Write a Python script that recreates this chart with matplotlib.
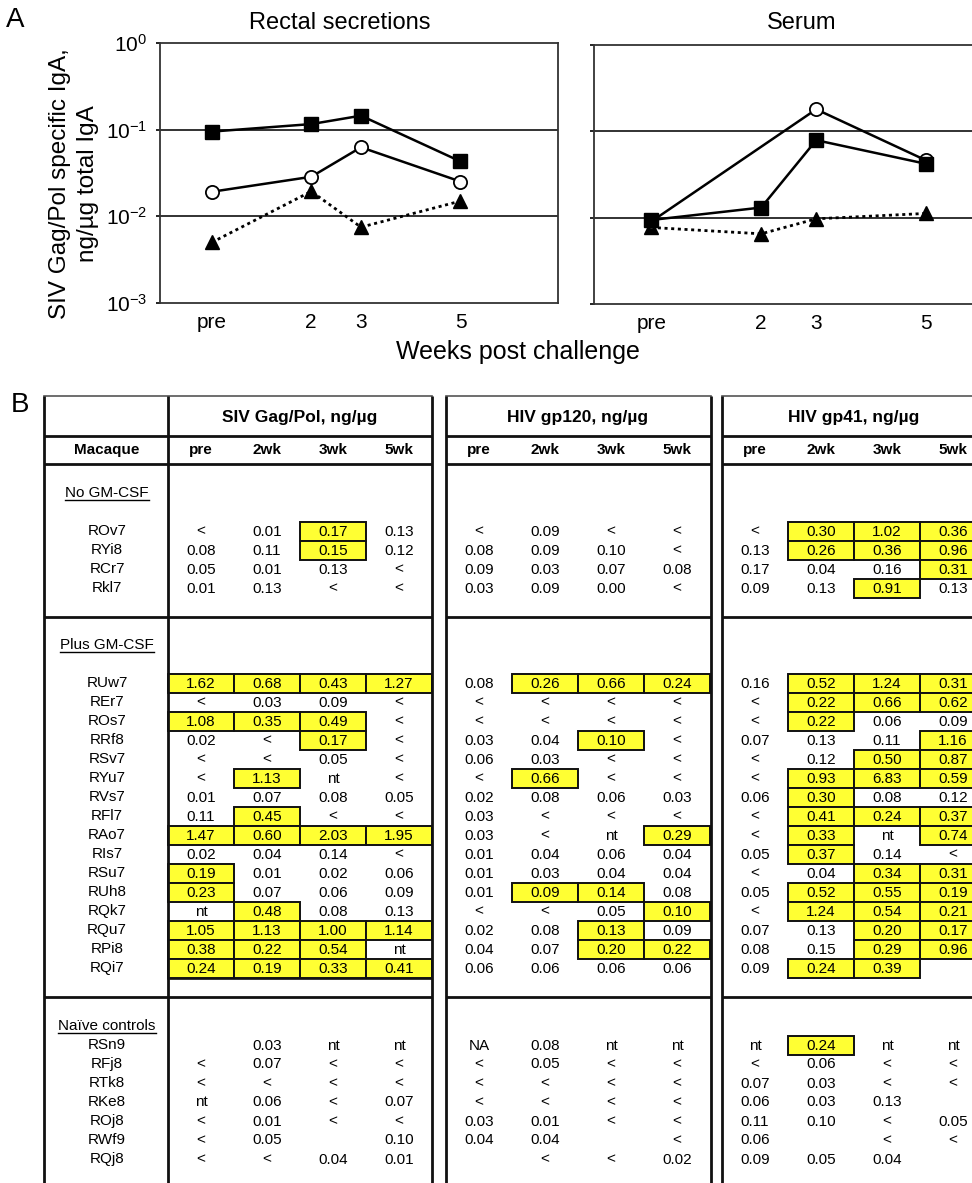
import numpy as np
import matplotlib
matplotlib.use('Agg')
import matplotlib.pyplot as plt
from matplotlib.patches import Rectangle
from matplotlib.ticker import NullLocator

plt.rcParams['font.family'] = ['Liberation Sans', 'DejaVu Sans']
plt.rcParams['mathtext.default'] = 'regular'

# ---- panel A data ----
weeks = [0, 2, 3, 5]
week_labels = ['pre', '2', '3', '5']

rectal_square = [0.095, 0.116, 0.145, 0.043]
rectal_circle = [0.0192, 0.0286, 0.0626, 0.0252]
rectal_triangle = [0.0050, 0.0194, 0.0075, 0.0150]

serum_square = [0.0094, 0.0131, 0.079, 0.042]
serum_circle = [0.0090, np.nan, 0.18, 0.046]
serum_triangle = [0.0077, 0.0065, 0.0097, 0.0112]

# ---- panel B data ('*' = highlighted response) ----
timepoints = ['pre', '2wk', '3wk', '5wk']
assays = ['SIV Gag/Pol, ng/µg', 'HIV gp120, ng/µg', 'HIV gp41, ng/µg']
groups = ['No GM-CSF', 'Plus GM-CSF', 'Naïve controls']

macaques_no = ['ROv7', 'RYi8', 'RCr7', 'Rkl7']
macaques_plus = ['RUw7', 'REr7', 'ROs7', 'RRf8', 'RSv7', 'RYu7', 'RVs7', 'RFl7',
                 'RAo7', 'RIs7', 'RSu7', 'RUh8', 'RQk7', 'RQu7', 'RPi8', 'RQi7']
macaques_naive = ['RSn9', 'RFj8', 'RTk8', 'RKe8', 'ROj8', 'RWf9', 'RQj8']

siv_gagpol = [
    ['<', '0.01', '0.17*', '0.13'],
    ['0.08', '0.11', '0.15*', '0.12'],
    ['0.05', '0.01', '0.13', '<'],
    ['0.01', '0.13', '<', '<'],
    ['1.62*', '0.68*', '0.43*', '1.27*'],
    ['<', '0.03', '0.09', '<'],
    ['1.08*', '0.35*', '0.49*', '<'],
    ['0.02', '<', '0.17*', '<'],
    ['<', '<', '0.05', '<'],
    ['<', '1.13*', 'nt', '<'],
    ['0.01', '0.07', '0.08', '0.05'],
    ['0.11', '0.45*', '<', '<'],
    ['1.47*', '0.60*', '2.03*', '1.95*'],
    ['0.02', '0.04', '0.14', '<'],
    ['0.19*', '0.01', '0.02', '0.06'],
    ['0.23*', '0.07', '0.06', '0.09'],
    ['nt', '0.48*', '0.08', '0.13'],
    ['1.05*', '1.13*', '1.00*', '1.14*'],
    ['0.38*', '0.22*', '0.54*', 'nt'],
    ['0.24*', '0.19*', '0.33*', '0.41*'],
    ['', '0.03', 'nt', 'nt'],
    ['<', '0.07', '<', '<'],
    ['<', '<', '<', '<'],
    ['nt', '0.06', '<', '0.07'],
    ['<', '0.01', '<', '<'],
    ['<', '0.05', '', '0.10'],
    ['<', '<', '0.04', '0.01'],
]

hiv_gp120 = [
    ['<', '0.09', '<', '<'],
    ['0.08', '0.09', '0.10', '<'],
    ['0.09', '0.03', '0.07', '0.08'],
    ['0.03', '0.09', '0.00', '<'],
    ['0.08', '0.26*', '0.66*', '0.24*'],
    ['<', '<', '<', '<'],
    ['<', '<', '<', '<'],
    ['0.03', '0.04', '0.10*', '<'],
    ['0.06', '0.03', '<', '<'],
    ['<', '0.66*', '<', '<'],
    ['0.02', '0.08', '0.06', '0.03'],
    ['0.03', '<', '<', '<'],
    ['0.03', '<', 'nt', '0.29*'],
    ['0.01', '0.04', '0.06', '0.04'],
    ['0.01', '0.03', '0.04', '0.04'],
    ['0.01', '0.09*', '0.14*', '0.08'],
    ['<', '<', '0.05', '0.10*'],
    ['0.02', '0.08', '0.13*', '0.09'],
    ['0.04', '0.07', '0.20*', '0.22*'],
    ['0.06', '0.06', '0.06', '0.06'],
    ['NA', '0.08', 'nt', 'nt'],
    ['<', '0.05', '<', '<'],
    ['<', '<', '<', '<'],
    ['<', '<', '<', '<'],
    ['0.03', '0.01', '<', '<'],
    ['0.04', '0.04', '', '<'],
    ['', '<', '<', '0.02'],
]

hiv_gp41 = [
    ['<', '0.30*', '1.02*', '0.36*'],
    ['0.13', '0.26*', '0.36*', '0.96*'],
    ['0.17', '0.04', '0.16', '0.31*'],
    ['0.09', '0.13', '0.91*', '0.13'],
    ['0.16', '0.52*', '1.24*', '0.31*'],
    ['<', '0.22*', '0.66*', '0.62*'],
    ['<', '0.22*', '0.06', '0.09'],
    ['0.07', '0.13', '0.11', '1.16*'],
    ['<', '0.12', '0.50*', '0.87*'],
    ['<', '0.93*', '6.83*', '0.59*'],
    ['0.06', '0.30*', '0.08', '0.12'],
    ['<', '0.41*', '0.24*', '0.37*'],
    ['<', '0.33*', 'nt', '0.74*'],
    ['0.05', '0.37*', '0.14', '<'],
    ['<', '0.04', '0.34*', '0.31*'],
    ['0.05', '0.52*', '0.55*', '0.19*'],
    ['<', '1.24*', '0.54*', '0.21*'],
    ['0.07', '0.13', '0.20*', '0.17*'],
    ['0.08', '0.15', '0.29*', '0.96*'],
    ['0.09', '0.24*', '0.39*', ''],
    ['nt', '0.24*', 'nt', 'nt'],
    ['<', '0.06', '<', '<'],
    ['0.07', '0.03', '<', '<'],
    ['0.06', '0.03', '0.13', ''],
    ['0.11', '0.10', '<', '0.05'],
    ['0.06', '', '<', '<'],
    ['0.09', '0.05', '0.04', ''],
]

W, H = 972, 1183
YELLOW = '#ffff33'
FS_TAB = 11

fig = plt.figure(figsize=(W / 100, H / 100), dpi=100)
# pixel-space canvas for labels and the table
cv = fig.add_axes([0, 0, 1, 1])
cv.set_xlim(0, W)
cv.set_ylim(H, 0)
cv.axis('off')


def add_panel(x0, x1, y0, y1):
    return fig.add_axes([x0 / W, 1 - y1 / H, (x1 - x0) / W, (y1 - y0) / H])


# ---------------- panel A ----------------
ax_r = add_panel(160, 558, 43, 303)
ax_s = add_panel(594, 1034, 45, 304)

for ax, sq, ci, tr in [(ax_r, rectal_square, rectal_circle, rectal_triangle),
                       (ax_s, serum_square, serum_circle, serum_triangle)]:
    ax.set_yscale('log')
    ax.set_ylim(1e-3, 1)
    ax.set_xlim(-1.04, 6.96)
    for lvl in (1e-1, 1e-2):
        ax.axhline(lvl, color='#222222', lw=1.3, zorder=1)
    w = np.array(weeks, dtype=float)
    ci = np.array(ci, dtype=float)
    m = ~np.isnan(ci)
    ax.plot(w, tr, linestyle=(0, (1.1, 1.3)), color='k', lw=2.0,
            marker='^', ms=9.5, mfc='k', mec='k', zorder=3)
    ax.plot(w[m], ci[m], '-o', color='k', lw=1.8, ms=9.5, mfc='white',
            mec='k', mew=1.3, zorder=4)
    ax.plot(w, sq, '-s', color='k', lw=1.8, ms=9.5, mfc='k', mec='k', zorder=5)
    ax.set_xticks(weeks, week_labels)
    ax.tick_params(axis='x', length=0, labelsize=15, pad=7)
    ax.set_yticks([1e-3, 1e-2, 1e-1, 1])
    ax.yaxis.set_minor_locator(NullLocator())
    ax.tick_params(axis='y', length=3, width=1.2, direction='out', labelsize=15, pad=6)
    for sp in ax.spines.values():
        sp.set_color('#333333')
        sp.set_linewidth(1.3)

ax_r.set_yticklabels(['$10^{-3}$', '$10^{-2}$', '$10^{-1}$', '$10^{0}$'])
ax_s.set_yticklabels([])
ax_s.spines['right'].set_visible(False)

cv.text(15, 20, 'A', fontsize=20, ha='center', va='center')
cv.text(340, 23, 'Rectal secretions', fontsize=17, ha='center', va='center')
cv.text(802, 23, 'Serum', fontsize=17, ha='center', va='center')
cv.text(518, 352, 'Weeks post challenge', fontsize=18, ha='center', va='center')
cv.text(74, 184, 'SIV Gag/Pol specific IgA,\nng/µg total IgA', fontsize=17.5,
        rotation=90, ha='center', va='center', linespacing=1.3)

# ---------------- panel B ----------------
cv.text(20, 405, 'B', fontsize=20, ha='center', va='center')

name_x = 107
sec_left = [168, 446, 722]
cell_w = 66
row_h = 19
spans = [(44, 432), (446, 711), (722, 1000)]
line_kw = dict(color='#111111', lw=2.0, solid_capstyle='butt', zorder=6)

# grid
for x0, x1 in spans:
    cv.plot([x0, x1], [396, 396], color='#555555', lw=1.2, zorder=6)
    for y in (436, 464, 617, 997):
        cv.plot([x0, x1], [y, y], **line_kw)
for x in (44, 168, 432, 446, 711, 722):
    cv.plot([x, x], [396, H + 5], **line_kw)
cv.plot([168, 432], [979, 979], color='#111111', lw=1.2, zorder=6)

# headers
for a, name in enumerate(assays):
    cv.text(sec_left[a] + 2 * cell_w, 417, name, fontsize=12.5,
            fontweight='bold', ha='center', va='center')
    for j, tp in enumerate(timepoints):
        cv.text(sec_left[a] + cell_w * (j + 0.5), 450, tp, fontsize=FS_TAB,
                fontweight='bold', ha='center', va='center')
cv.text(name_x, 450, 'Macaque', fontsize=FS_TAB, fontweight='bold',
        ha='center', va='center')

# body
group_members = [macaques_no, macaques_plus, macaques_naive]
group_label_y = [493, 645, 1026]
group_first_y = [531, 683, 1045]
tables = [siv_gagpol, hiv_gp120, hiv_gp41]

labels = []
k = 0
for g, members in enumerate(group_members):
    t = cv.text(name_x, group_label_y[g], groups[g], fontsize=FS_TAB,
                ha='center', va='center')
    labels.append(t)
    for i, mac in enumerate(members):
        y = group_first_y[g] + row_h * i
        cv.text(name_x, y, mac, fontsize=FS_TAB, ha='center', va='center')
        for a, tab in enumerate(tables):
            for j, val in enumerate(tab[k]):
                x0 = sec_left[a] + cell_w * j
                if val.endswith('*'):
                    cv.add_patch(Rectangle((x0, y - row_h / 2), cell_w, row_h,
                                           facecolor=YELLOW, edgecolor='#111111',
                                           lw=1.4, zorder=2))
                cv.text(x0 + cell_w / 2, y + 0.5, val.rstrip('*'), fontsize=FS_TAB,
                        ha='center', va='center', zorder=3)
        k += 1

# underline group labels
fig.canvas.draw()
inv = cv.transData.inverted()
for t in labels:
    bb = t.get_window_extent()
    (xa, ya), (xb, _) = inv.transform([[bb.x0, bb.y0], [bb.x1, bb.y0]])
    cv.plot([xa, xb], [ya, ya], color='k', lw=1.0)

fig.savefig('out.png', dpi=100)
